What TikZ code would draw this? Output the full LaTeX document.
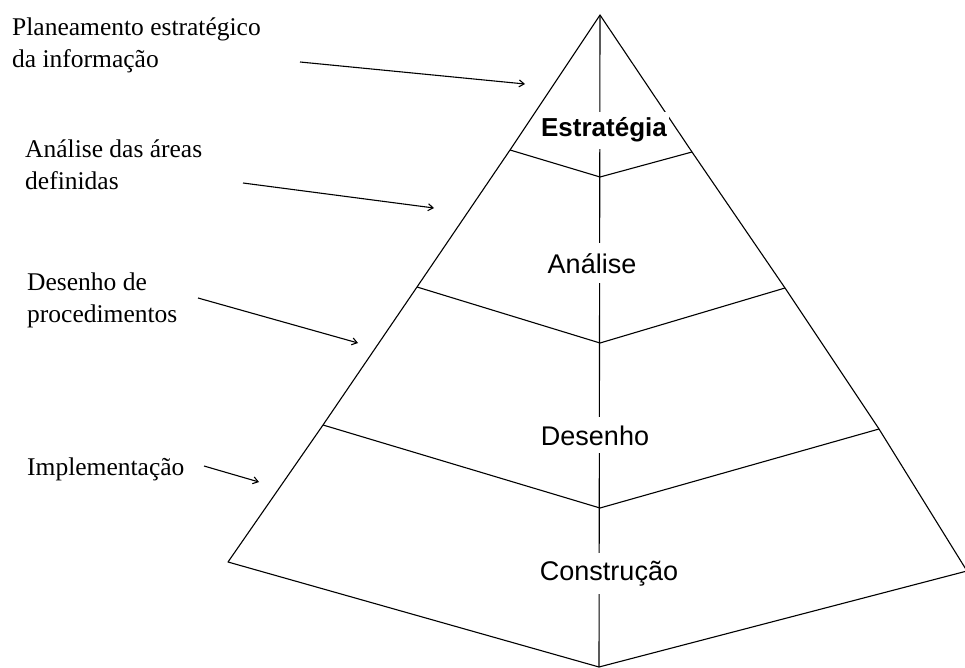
\documentclass[tikz,border=0pt]{standalone}
\usepackage{fontspec}
\setmainfont{Liberation Serif}
\newfontfamily\tierfont{Liberation Sans}
\usetikzlibrary{arrows.meta}
\begin{document}
\begin{tikzpicture}[x=1pt,y=-1pt,
  edge/.style={draw=black, line width=1.1pt, line join=round},
  pointer/.style={draw=black, line width=1.1pt, -{Straight Barb[length=5pt,width=7pt]}},
  lbl/.style={font=\fontsize{25.5}{32}\selectfont, align=left, anchor=north west, inner sep=0pt},
  tier/.style={font=\tierfont\fontsize{27}{30}\selectfont, fill=white, inner xsep=2pt, inner ysep=6pt, anchor=base}]
\useasboundingbox (0,0) rectangle (965,668);
% pyramid points
\coordinate (apex) at (600,15);
\coordinate (l1) at (510,150); \coordinate (c1) at (600,177); \coordinate (r1) at (692,152);
\coordinate (l2) at (417,287); \coordinate (c2) at (600,343); \coordinate (r2) at (785,288);
\coordinate (l3) at (323,425); \coordinate (c3) at (600,508); \coordinate (r3) at (879,429);
\coordinate (l4) at (228,562); \coordinate (c4) at (599,667); \coordinate (r4) at (967,571);
% outline
\draw[edge] (apex) -- (l1) -- (l2) -- (l3) -- (l4) -- (c4) -- (r4) -- (r3) -- (r2) -- (r1) -- cycle;
\draw[edge] (l1) -- (c1) -- (r1);
\draw[edge] (l2) -- (c2) -- (r2);
\draw[edge] (l3) -- (c3) -- (r3);
\draw[edge] (apex) -- (c4);
% tier labels
\node[tier, font=\tierfont\bfseries\fontsize{26}{30}\selectfont] (estr) at (604,137) {Estratégia};
\node[tier, inner ysep=10pt] (anal) at (592,273) {Análise};
\node[tier, inner ysep=8pt] (dese) at (595,445) {Desenho};
\node[tier, inner ysep=8pt] (cons) at (609,580) {Construção};
% side labels
\node[lbl] (t1) at (12,18) {Planeamento estratégico\\da informação};
\node[lbl] (t2) at (25,140) {Análise das áreas\\definidas};
\node[lbl] (t3) at (27,273) {Desenho de\\procedimentos};
\node[lbl] (t4) at (27,458) {Implementação};
% arrows
\coordinate (a1s) at (300,62);  \coordinate (a1e) at (525,84);
\coordinate (a2s) at (243,183); \coordinate (a2e) at (434,208);
\coordinate (a3s) at (198,298); \coordinate (a3e) at (358,343);
\coordinate (a4s) at (204,466); \coordinate (a4e) at (259,482);
\draw[pointer] (a1s) -- (a1e);
\draw[pointer] (a2s) -- (a2e);
\draw[pointer] (a3s) -- (a3e);
\draw[pointer] (a4s) -- (a4e);
\end{tikzpicture}
\end{document}
